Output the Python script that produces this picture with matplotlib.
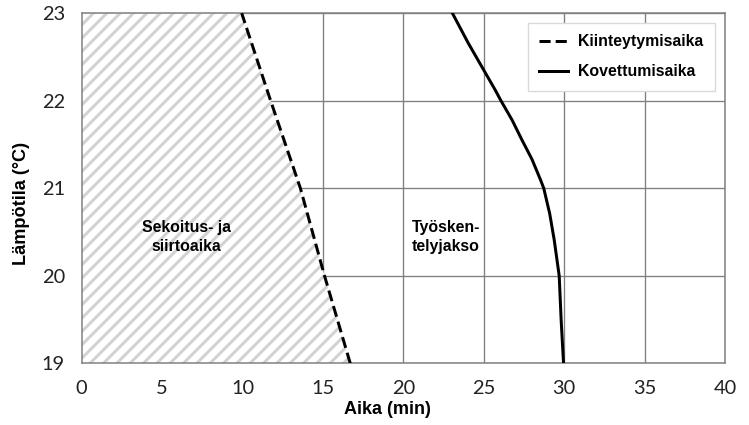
import matplotlib
matplotlib.use('Agg')
import matplotlib.pyplot as plt

# Kiinteytymisaika (katkoviiva)
lampo_k = [19, 20, 21, 22, 23]
aika_k = [16.7, 15.1, 13.6, 11.75, 9.95]

# Kovettumisaika (yhtenäinen viiva)
lampo_v = [19.0, 19.5, 20.0, 20.41, 20.71, 21.0, 21.1, 21.33, 21.55, 21.78,
           22.0, 22.12, 22.35, 22.66, 23.0]
aika_v = [29.96, 29.81, 29.69, 29.38, 29.1, 28.73, 28.52, 28.0, 27.38, 26.76,
          26.07, 25.72, 25.0, 24.03, 23.05]

x_ticks = [0, 5, 10, 15, 20, 25, 30, 35, 40]
y_ticks = [19, 20, 21, 22, 23]

plt.rcParams['hatch.linewidth'] = 1.8
harmaa = '#7f7f7f'
bold_font = 'Liberation Sans'
tick_font = 'Lato'

fig = plt.figure(figsize=(749/120, 425/120), dpi=120)
ax = fig.add_axes([0.109, 0.145, 0.859, 0.824])

ax.set_xlim(0, 40)
ax.set_ylim(19, 23)
ax.set_xticks(x_ticks)
ax.set_yticks(y_ticks)
ax.set_axisbelow(True)
ax.grid(True, color=harmaa, linewidth=0.8)
for s in ax.spines.values():
    s.set_color(harmaa)
    s.set_linewidth(0.9)

ax.tick_params(length=0, labelsize=12, colors='#222222')
ax.tick_params(axis='x', pad=10)
ax.tick_params(axis='y', pad=10)
for lab in ax.get_xticklabels() + ax.get_yticklabels():
    lab.set_family(tick_font)

# viivoitettu alue
ax.fill_betweenx(lampo_k, 0, aika_k, facecolor='white', hatch='///',
                 edgecolor='#d2d2d2', linewidth=0, zorder=1)

ax.plot(aika_k, lampo_k, color='black', linewidth=1.8, dashes=(3.7, 1.7),
        label='Kiinteytymisaika', zorder=3)
ax.plot(aika_v, lampo_v, color='black', linewidth=1.8,
        label='Kovettumisaika', zorder=3, solid_joinstyle='round')

ax.text(6.5, 20.44, 'Sekoitus- ja\nsiirtoaika', ha='center', va='center',
        fontsize=9.5, fontweight='bold', family=bold_font, linespacing=1.35)
ax.text(20.5, 20.44, 'Työsken-\ntelyjakso', ha='left', va='center',
        fontsize=9.5, fontweight='bold', family=bold_font, linespacing=1.35)

ax.set_xlabel('Aika (min)', fontsize=10.8, fontweight='bold', family=bold_font,
              va='center')
ax.set_ylabel('Lämpötila (°C)', fontsize=10.9, fontweight='bold', family=bold_font,
              va='center')
ax.xaxis.set_label_coords(0.475, -0.133)
ax.yaxis.set_label_coords(-0.093, 0.458)

leg = ax.legend(loc='upper right', bbox_to_anchor=(0.984, 0.971), borderaxespad=0,
                fancybox=False, edgecolor='#d9d9d9', framealpha=1,
                handlelength=1.85, handletextpad=0.65, labelspacing=0.95,
                borderpad=0.7,
                prop={'family': bold_font, 'weight': 'bold', 'size': 9.5})
leg.get_frame().set_linewidth(0.8)

fig.savefig('out.png', dpi=120)
